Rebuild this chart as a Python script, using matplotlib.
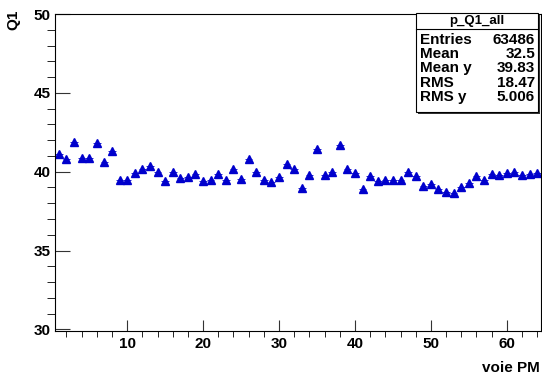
import numpy as np
import matplotlib.pyplot as plt
from matplotlib.patches import Rectangle
from matplotlib.ticker import MultipleLocator

# voie PM (bin centres) and mean Q1 per channel
voie = np.arange(1, 65)
q1 = [41.1, 40.8, 41.9, 40.9, 40.9, 41.8, 40.6, 41.3, 39.5, 39.5,
      39.9, 40.2, 40.35, 40.0, 39.4, 40.0, 39.6, 39.65, 39.85, 39.4,
      39.45, 39.85, 39.5, 40.2, 39.55, 40.8, 40.0, 39.5, 39.35, 39.65,
      40.5, 40.15, 38.95, 39.8, 41.45, 39.8, 40.0, 41.7, 40.2, 39.9,
      38.9, 39.75, 39.4, 39.45, 39.45, 39.5, 40.0, 39.7, 39.1, 39.2,
      38.9, 38.7, 38.65, 39.0, 39.3, 39.7, 39.5, 39.85, 39.8, 39.9,
      39.95, 39.8, 39.85, 39.9]

stats_names = ["Entries", "Mean", "Mean y", "RMS", "RMS y"]
stats_vals = ["63486", "32.5", "39.83", "18.47", "5.006"]

plt.rcParams['font.family'] = ['Liberation Sans', 'DejaVu Sans']
plt.rcParams['font.weight'] = 'bold'

W, H = 542, 381
fig = plt.figure(figsize=(W / 100, H / 100), dpi=100)
ax = fig.add_axes([55 / W, (H - 331) / H, 486 / W, 317 / H])

ax.errorbar(voie, q1, xerr=0.5, fmt='^', color='#0000cc', ms=5.5,
            elinewidth=0.6, capsize=0, mec='#0000cc')

ax.set_xlim(0.5, 64.5)
ax.set_ylim(29.9, 50)
ax.xaxis.set_major_locator(MultipleLocator(10))
ax.xaxis.set_minor_locator(MultipleLocator(2))
ax.yaxis.set_major_locator(MultipleLocator(5))
ax.yaxis.set_minor_locator(MultipleLocator(1))
ax.tick_params(direction='in', labelsize=11, width=0.8, color='#333333')
ax.tick_params(axis='y', which='major', length=11, pad=3)
ax.tick_params(axis='y', which='minor', length=6)
ax.tick_params(axis='x', which='major', length=8, pad=4)
ax.tick_params(axis='x', which='minor', length=4)
for lab in ax.get_xticklabels() + ax.get_yticklabels():
    lab.set_fontweight('bold')
for sp in ax.spines.values():
    sp.set_linewidth(0.8)

fig.text(540 / W, 1 - 368 / H, "voie PM", ha='right', va='center',
         fontsize=11, fontweight='bold')
fig.text(13 / W, 1 - 20 / H, "Q1", rotation=90, ha='center', va='center',
         fontsize=11, fontweight='bold')

# stats box with thin shadow
bx0, bx1, by0, by1 = 416, 538, 13, 112
fig.patches.append(Rectangle(((bx0 + 2) / W, 1 - (by1 + 2) / H),
                             (bx1 - bx0) / W, (by1 - by0) / H,
                             transform=fig.transFigure, facecolor='#333333',
                             edgecolor='none', zorder=5))
fig.patches.append(Rectangle((bx0 / W, 1 - by1 / H), (bx1 - bx0) / W,
                             (by1 - by0) / H, transform=fig.transFigure,
                             facecolor='white', edgecolor='black', lw=0.8,
                             zorder=6))
fig.add_artist(plt.Line2D([bx0 / W, bx1 / W], [1 - 29 / H, 1 - 29 / H],
                          color='black', lw=0.8, zorder=7))
fig.text((bx0 + bx1) / 2 / W, 1 - 21 / H, "p_Q1_all", ha='center',
         va='center', fontsize=9.5, fontweight='bold', zorder=8)
for i, (n, v) in enumerate(zip(stats_names, stats_vals)):
    y = 1 - (40 + i * 14.2) / H
    fig.text((bx0 + 4) / W, y, n, ha='left', va='center', fontsize=11,
             fontweight='bold', zorder=8)
    fig.text((bx1 - 3) / W, y, v, ha='right', va='center', fontsize=11,
             fontweight='bold', zorder=8)

fig.savefig("out.png", dpi=100)
